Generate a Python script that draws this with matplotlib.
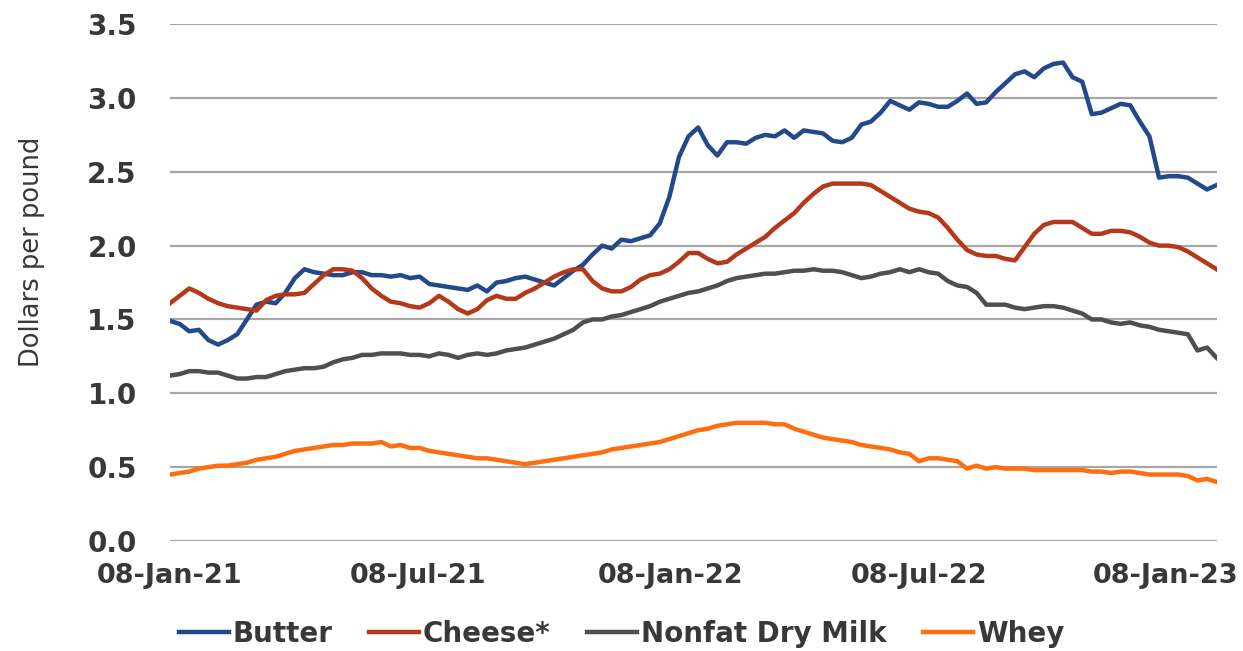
import numpy as np
import pandas as pd
import matplotlib
matplotlib.use("Agg")
import matplotlib.pyplot as plt
import matplotlib.dates as mdates
import matplotlib.transforms as mtransforms

# weekly wholesale prices, dollars per pound
dates = pd.date_range("2021-01-08", periods=110, freq="7D")

butter = [1.49, 1.47, 1.42, 1.43, 1.36, 1.33, 1.36, 1.40, 1.50, 1.60,
          1.62, 1.61, 1.68, 1.78, 1.84, 1.82, 1.81, 1.80, 1.80, 1.82,
          1.82, 1.80, 1.80, 1.79, 1.80, 1.78, 1.79, 1.74, 1.73, 1.72,
          1.71, 1.70, 1.73, 1.69, 1.75, 1.76, 1.78, 1.79, 1.77, 1.75,
          1.73, 1.78, 1.83, 1.87, 1.94, 2.00, 1.98, 2.04, 2.03, 2.05,
          2.07, 2.15, 2.33, 2.60, 2.74, 2.80, 2.68, 2.61, 2.70, 2.70,
          2.69, 2.73, 2.75, 2.74, 2.78, 2.73, 2.78, 2.77, 2.76, 2.71,
          2.70, 2.73, 2.82, 2.84, 2.90, 2.98, 2.95, 2.92, 2.97, 2.96,
          2.94, 2.94, 2.98, 3.03, 2.96, 2.97, 3.04, 3.10, 3.16, 3.18,
          3.14, 3.20, 3.23, 3.24, 3.14, 3.11, 2.89, 2.90, 2.93, 2.96,
          2.95, 2.84, 2.74, 2.46, 2.47, 2.47, 2.46, 2.42, 2.38, 2.41]

cheese = [1.61, 1.66, 1.71, 1.68, 1.64, 1.61, 1.59, 1.58, 1.57, 1.56,
          1.63, 1.66, 1.67, 1.67, 1.68, 1.74, 1.80, 1.84, 1.84, 1.83,
          1.78, 1.71, 1.66, 1.62, 1.61, 1.59, 1.58, 1.61, 1.66, 1.62,
          1.57, 1.54, 1.57, 1.63, 1.66, 1.64, 1.64, 1.68, 1.71, 1.75,
          1.79, 1.82, 1.84, 1.84, 1.76, 1.71, 1.69, 1.69, 1.72, 1.77,
          1.80, 1.81, 1.84, 1.89, 1.95, 1.95, 1.91, 1.88, 1.89, 1.94,
          1.98, 2.02, 2.06, 2.12, 2.17, 2.22, 2.29, 2.35, 2.40, 2.42,
          2.42, 2.42, 2.42, 2.41, 2.37, 2.33, 2.29, 2.25, 2.23, 2.22,
          2.19, 2.12, 2.04, 1.97, 1.94, 1.93, 1.93, 1.91, 1.90, 1.99,
          2.08, 2.14, 2.16, 2.16, 2.16, 2.12, 2.08, 2.08, 2.10, 2.10,
          2.09, 2.06, 2.02, 2.00, 2.00, 1.99, 1.96, 1.92, 1.88, 1.84]

nonfat_dry_milk = [1.12, 1.13, 1.15, 1.15, 1.14, 1.14, 1.12, 1.10, 1.10, 1.11,
                   1.11, 1.13, 1.15, 1.16, 1.17, 1.17, 1.18, 1.21, 1.23, 1.24,
                   1.26, 1.26, 1.27, 1.27, 1.27, 1.26, 1.26, 1.25, 1.27, 1.26,
                   1.24, 1.26, 1.27, 1.26, 1.27, 1.29, 1.30, 1.31, 1.33, 1.35,
                   1.37, 1.40, 1.43, 1.48, 1.50, 1.50, 1.52, 1.53, 1.55, 1.57,
                   1.59, 1.62, 1.64, 1.66, 1.68, 1.69, 1.71, 1.73, 1.76, 1.78,
                   1.79, 1.80, 1.81, 1.81, 1.82, 1.83, 1.83, 1.84, 1.83, 1.83,
                   1.82, 1.80, 1.78, 1.79, 1.81, 1.82, 1.84, 1.82, 1.84, 1.82,
                   1.81, 1.76, 1.73, 1.72, 1.68, 1.60, 1.60, 1.60, 1.58, 1.57,
                   1.58, 1.59, 1.59, 1.58, 1.56, 1.54, 1.50, 1.50, 1.48, 1.47,
                   1.48, 1.46, 1.45, 1.43, 1.42, 1.41, 1.40, 1.29, 1.31, 1.24]

whey = [0.45, 0.46, 0.47, 0.49, 0.50, 0.51, 0.51, 0.52, 0.53, 0.55,
        0.56, 0.57, 0.59, 0.61, 0.62, 0.63, 0.64, 0.65, 0.65, 0.66,
        0.66, 0.66, 0.67, 0.64, 0.65, 0.63, 0.63, 0.61, 0.60, 0.59,
        0.58, 0.57, 0.56, 0.56, 0.55, 0.54, 0.53, 0.52, 0.53, 0.54,
        0.55, 0.56, 0.57, 0.58, 0.59, 0.60, 0.62, 0.63, 0.64, 0.65,
        0.66, 0.67, 0.69, 0.71, 0.73, 0.75, 0.76, 0.78, 0.79, 0.80,
        0.80, 0.80, 0.80, 0.79, 0.79, 0.76, 0.74, 0.72, 0.70, 0.69,
        0.68, 0.67, 0.65, 0.64, 0.63, 0.62, 0.60, 0.59, 0.54, 0.56,
        0.56, 0.55, 0.54, 0.49, 0.51, 0.49, 0.50, 0.49, 0.49, 0.49,
        0.48, 0.48, 0.48, 0.48, 0.48, 0.48, 0.47, 0.47, 0.46, 0.47,
        0.47, 0.46, 0.45, 0.45, 0.45, 0.45, 0.44, 0.41, 0.42, 0.40]

tick_dates = pd.to_datetime(["2021-01-08", "2021-07-08", "2022-01-08",
                             "2022-07-08", "2023-01-08"])

txt = "#383838"

fig = plt.figure(figsize=(12.43, 6.51), dpi=100)
ax = fig.add_axes([0.1368, 0.169, 0.842, 0.794])

ax.plot(dates, butter, color="#22498A", lw=3.2, label="Butter")
ax.plot(dates, cheese, color="#B5381A", lw=3.2, label="Cheese*")
ax.plot(dates, nonfat_dry_milk, color="#4F4F4F", lw=3.2, label="Nonfat Dry Milk")
ax.plot(dates, whey, color="#FF6E0E", lw=3.2, label="Whey")

ax.set_ylim(0, 3.5)
ax.set_yticks(np.arange(0, 3.51, 0.5))
ax.yaxis.set_major_formatter(matplotlib.ticker.FormatStrFormatter("%.1f"))
ax.set_xlim(dates[0], dates[-1])
ax.set_xticks(tick_dates)
ax.xaxis.set_major_formatter(mdates.DateFormatter("%d-%b-%y"))

ax.grid(axis="y", color="#A6A6A6", lw=1.6)
ax.set_axisbelow(True)
for s in ax.spines.values():
    s.set_visible(False)
ax.tick_params(length=0, labelsize=19.5, labelcolor=txt)
ax.tick_params(axis="x", labelsize=19.5)
ax.tick_params(axis="y", labelsize=20, pad=24)
ax.tick_params(axis="x", pad=16)
for lab in ax.get_xticklabels() + ax.get_yticklabels():
    lab.set_fontweight("bold")

# last date label sits against the right edge; nudge it in a little
last = ax.get_xticklabels()[-1]
last.set_transform(last.get_transform() +
                   mtransforms.ScaledTranslation(-6 / 100, 0, fig.dpi_scale_trans))

ax.set_ylabel("Dollars per pound", fontsize=18.5, color=txt)
ax.yaxis.set_label_coords(-0.119, 0.56)

leg = fig.legend(loc="center", bbox_to_anchor=(0.5, 0.026), ncol=4,
                 frameon=False, prop={"size": 20, "weight": "bold"},
                 handlelength=1.8, handletextpad=0.15, columnspacing=1.3)
for t in leg.get_texts():
    t.set_color(txt)

fig.savefig("out.png", dpi=100)
